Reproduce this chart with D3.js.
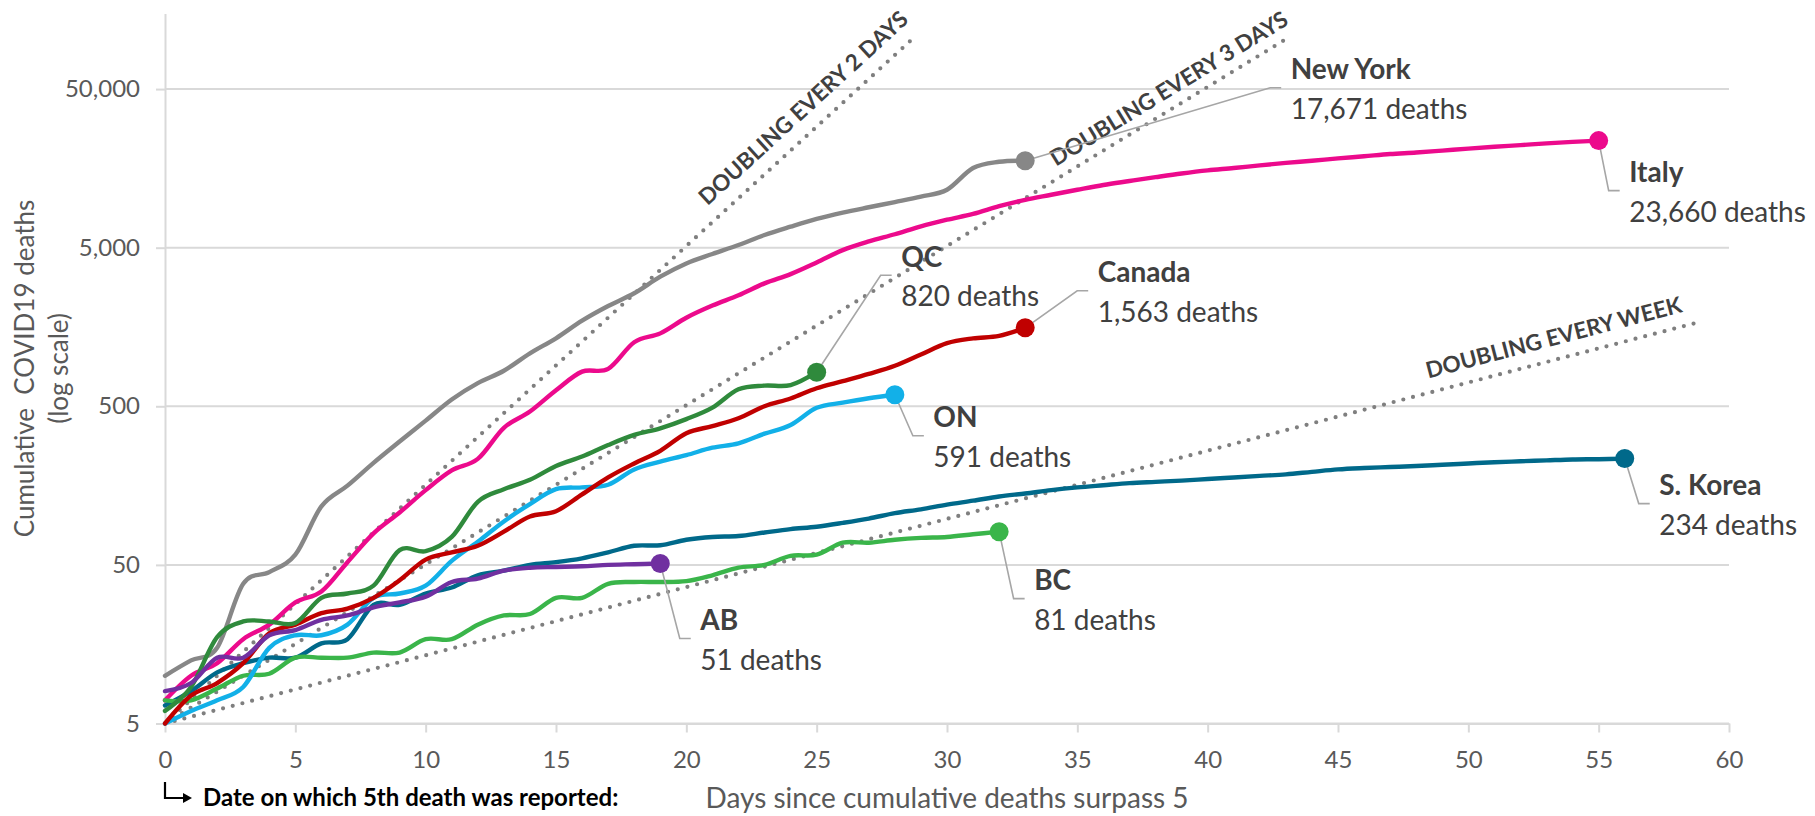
<!DOCTYPE html>
<html><head><meta charset="utf-8">
<script src="https://cdn.jsdelivr.net/npm/d3@7"></script>
<style>
html,body{margin:0;padding:0;background:#fff;}
svg{display:block;font-family:Lato,"Open Sans",sans-serif;}
</style></head><body>
<svg id="chart" width="1815" height="816"></svg>
<script>
// ---------------- data ----------------
const seriesNames = ["New York", "Italy", "S. Korea", "BC", "ON", "Canada", "QC", "AB"];
const nyDeaths = [10, 12.5, 15, 38, 45, 58, 117, 158, 220, 300, 406, 552, 700, 838, 1079, 1342, 1733, 2144, 2580, 3281, 3977, 4560, 5200, 6012, 6780, 7586, 8310, 8990, 9700, 10500, 11600, 15900, 17400, 17671];
const italyDeaths = [7, 10, 12, 17, 21, 29, 34, 52, 79, 107, 148, 197, 233, 366, 463, 631, 827, 860, 1266, 1441, 1809, 2158, 2503, 2978, 3405, 4032, 4825, 5476, 6077, 6820, 7503, 8165, 9134, 10023, 10779, 11591, 12428, 13155, 13915, 14681, 15362, 15887, 16523, 17127, 17669, 18279, 18849, 19468, 19899, 20465, 21067, 21645, 22170, 22745, 23227, 23660];
const koreaDeaths = [6.5, 8, 10.5, 12, 13, 13, 16, 17, 28, 28, 33, 36, 43, 46, 50, 52, 55, 60, 66, 66.5, 72, 75, 76, 80, 84, 87, 92, 98, 106, 112, 120, 127, 135, 141, 148, 154, 159, 164, 167, 170, 174, 178, 182, 186, 193, 200, 204, 207, 210, 214, 218, 222, 225, 228, 231, 232, 234];
const bcDeaths = [7, 7, 8.3, 10, 10.3, 13, 13, 13, 14, 14, 17, 17, 21, 24, 24.5, 31, 31, 38, 39, 39, 39.5, 43, 48, 50, 57, 58, 69, 69, 72, 74, 75, 78, 81];
const onDeaths = [5, 6, 7, 8.5, 15, 18, 18, 21, 31, 33, 37, 53, 70, 94, 121, 150, 154, 160, 200, 224, 246, 274, 292, 336, 381, 489, 527, 562, 591];
const canadaDeaths = [5, 7.5, 9, 12, 18.5, 21, 24.8, 26.5, 31, 40, 54, 60, 66, 81, 101, 109, 139, 178, 218, 262, 338, 375, 420, 500, 560, 650, 720, 800, 900, 1060, 1250, 1340, 1390, 1563];
const qcDeaths = [6, 8.5, 17.5, 22, 22, 21.5, 31, 33, 37, 62, 61, 75, 125, 150, 172, 210, 241, 285, 330, 363, 415, 490, 640, 675, 680, 820];
const abDeaths = [8, 9, 13, 13, 18, 19.4, 22.5, 24, 27, 29, 31.5, 39, 41, 46, 48, 48.5, 49, 50, 50.5, 51];
const seriesValues = [nyDeaths, italyDeaths, koreaDeaths, bcDeaths, onDeaths, canadaDeaths, qcDeaths, abDeaths];

const xTicks = [0, 5, 10, 15, 20, 25, 30, 35, 40, 45, 50, 55, 60];
const yTicks = [5, 50, 500, 5000, 50000];
const doublingPeriods = [2, 3, 7];
const doublingEndDays = [28.8, 43, 59];
const doublingLabels = ["DOUBLING EVERY 2 DAYS", "DOUBLING EVERY 3 DAYS", "DOUBLING EVERY WEEK"];
const xTitle = "Days since cumulative deaths surpass 5";
const yTitleLines = ["Cumulative  COVID19 deaths", "(log scale)"];
const footNote = "Date on which 5th death was reported:";

// ---------------- styles & layout ----------------
const colors = ["#878787", "#ec0a8c", "#00698a", "#3ab54a", "#12b0e8", "#c00000", "#2f8a3c", "#7030a0"];
// leader elbow offsets from the end dot (px)
const leaderElbow = [[245, -73], [10, 50], [14, 45], [14.5, 67], [18, 41], [52, -37], [64, -97], [19.5, 75]];
const doublingLabelStart = [21.2, 34.4, 48.6];
const doublingLabelOffset = [15, 11, 14];

const svg = d3.select("#chart");
const x = d3.scaleLinear().domain([0, 60]).range([165, 1729]);
const y = d3.scaleLog().domain([5, 150000]).range([723.5, 13.4]);

const gridColor = "#d9d9d9";
const tickText = "#595959";

// gridlines
svg.append("g").selectAll("line").data(yTicks).join("line")
  .attr("x1", x(0)).attr("x2", x(60))
  .attr("y1", d => y(d)).attr("y2", d => y(d))
  .attr("stroke", gridColor).attr("stroke-width", 2);

// axes
const yAxis = svg.append("g").attr("transform", `translate(${x(0)},0)`)
  .call(d3.axisLeft(y).tickValues(yTicks).tickFormat(d3.format(",")).tickSize(9).tickSizeOuter(0).tickPadding(16));
const xAxis = svg.append("g").attr("transform", `translate(0,${y(5)})`)
  .call(d3.axisBottom(x).tickValues(xTicks).tickSize(9).tickSizeOuter(0).tickPadding(18));
[yAxis, xAxis].forEach(g => {
  g.select(".domain").attr("stroke", gridColor).attr("stroke-width", 2);
  g.selectAll(".tick line").attr("stroke", gridColor).attr("stroke-width", 2);
  g.selectAll(".tick text").attr("fill", tickText).attr("font-size", 24).attr("font-family", "Lato");
});

// doubling reference lines
const refLine = d3.line().x(d => x(d[0])).y(d => y(d[1]));
doublingPeriods.forEach((k, i) => {
  const pts = [[0, 5], [doublingEndDays[i], 5 * Math.pow(2, doublingEndDays[i] / k)]];
  svg.append("path").attr("d", refLine(pts))
    .attr("fill", "none").attr("stroke", "#7f7f7f").attr("stroke-width", 4.2)
    .attr("stroke-linecap", "round").attr("stroke-dasharray", "0 10");
  const x0 = x(0), y0 = y(5), x1 = x(10), y1 = y(5 * Math.pow(2, 10 / k));
  const ang = Math.atan2(y1 - y0, x1 - x0);
  const sd = doublingLabelStart[i];
  const px = x(sd), py = y(5 * Math.pow(2, sd / k));
  const nx = Math.sin(ang) * doublingLabelOffset[i], ny = -Math.cos(ang) * doublingLabelOffset[i];
  svg.append("text")
    .attr("transform", `translate(${px + nx},${py + ny}) rotate(${ang * 180 / Math.PI})`)
    .attr("font-size", 22.5).attr("font-weight", 700).attr("fill", "#404040")
    .text(doublingLabels[i]);
});

// series lines
const line = d3.line().x((v, i) => x(i)).y(v => y(v)).curve(d3.curveCardinal.tension(0));
seriesValues.forEach((vals, i) => {
  svg.append("path").attr("d", line(vals))
    .attr("fill", "none").attr("stroke", colors[i]).attr("stroke-width", 4.4)
    .attr("stroke-linejoin", "round").attr("stroke-linecap", "round");
});

// leaders, dots, labels
const fmt = d3.format(",");
seriesValues.forEach((vals, i) => {
  const last = vals.length - 1;
  const cx = x(last), cy = y(vals[last]);
  const ex = cx + leaderElbow[i][0], ey = cy + leaderElbow[i][1];
  svg.append("path").attr("d", `M${cx},${cy}L${ex},${ey}H${ex + 11}`)
    .attr("fill", "none").attr("stroke", "#a6a6a6").attr("stroke-width", 1.6);
  svg.append("circle").attr("cx", cx).attr("cy", cy).attr("r", 9.5).attr("fill", colors[i]);
  const lx = ex + 20.5;
  svg.append("text").attr("x", lx).attr("y", ey - 8.5)
    .attr("font-size", 28).attr("font-weight", 700).attr("fill", "#404040").text(seriesNames[i]);
  svg.append("text").attr("x", lx).attr("y", ey + 31)
    .attr("font-size", 28).attr("fill", "#404040").text(fmt(vals[last]) + " deaths");
});

// axis titles
svg.append("text").attr("x", (x(0) + x(60)) / 2).attr("y", 808)
  .attr("text-anchor", "middle").attr("font-size", 28).attr("fill", tickText).text(xTitle);
const yMid = (y(5) + y(150000)) / 2;
yTitleLines.forEach((t, i) => {
  svg.append("text")
    .attr("transform", `translate(${34 + i * 34},${yMid}) rotate(-90)`)
    .attr("text-anchor", "middle").attr("font-size", 26).attr("fill", tickText)
    .style("white-space", "pre").text(t);
});

// footnote with hooked arrow
const ax = x(0);
svg.append("path").attr("d", `M${ax},782V798H${ax + 19}`)
  .attr("fill", "none").attr("stroke", "#000").attr("stroke-width", 2.2);
svg.append("path").attr("d", `M${ax + 18},793L${ax + 27},798L${ax + 18},803Z`).attr("fill", "#000");
svg.append("text").attr("x", ax + 38).attr("y", 806)
  .attr("font-size", 24).attr("font-weight", 700).attr("fill", "#000").text(footNote);
</script>
</body></html>
